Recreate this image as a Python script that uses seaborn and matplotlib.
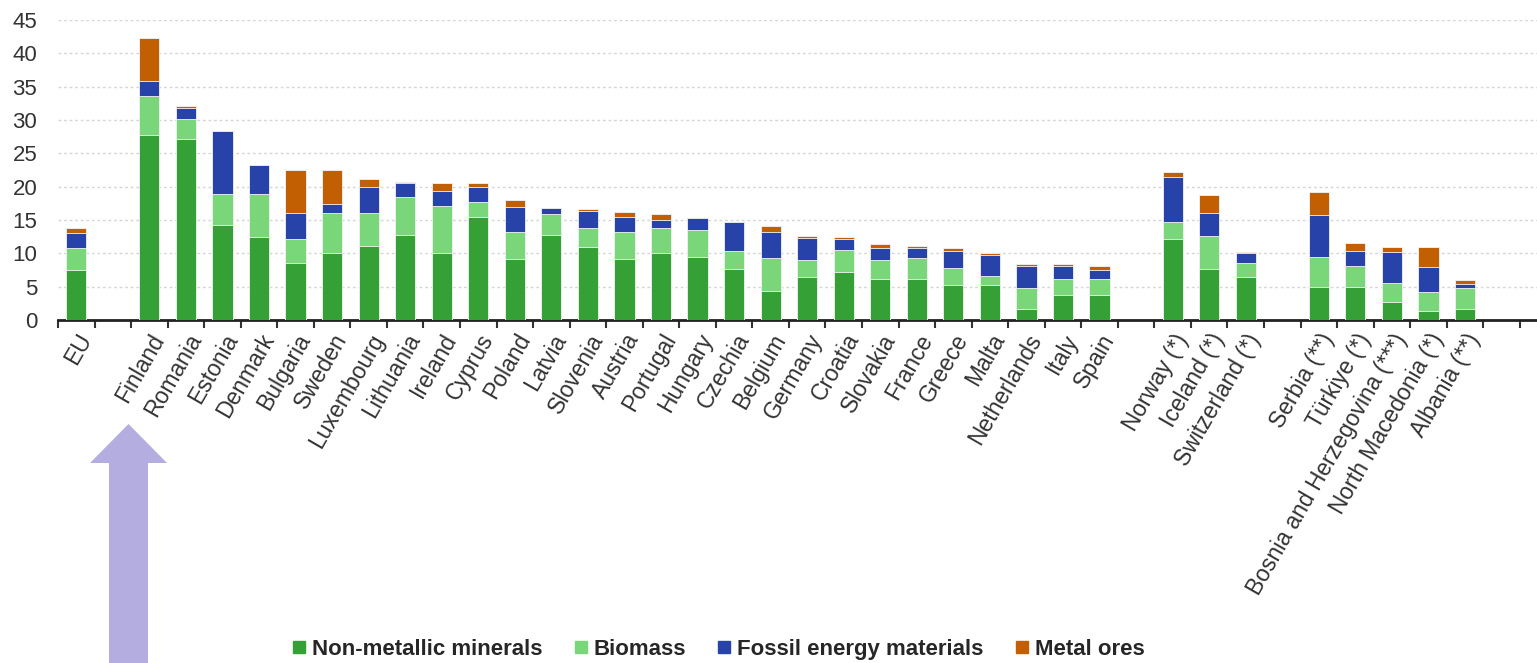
import pandas as pd
import matplotlib
matplotlib.use('Agg')
import matplotlib.pyplot as plt
import seaborn as sns
from matplotlib.lines import Line2D
from matplotlib.patches import Polygon
from matplotlib.ticker import FixedLocator

countries = ['EU', 'Finland', 'Romania', 'Estonia', 'Denmark', 'Bulgaria', 'Sweden',
             'Luxembourg', 'Lithuania', 'Ireland', 'Cyprus', 'Poland', 'Latvia', 'Slovenia',
             'Austria', 'Portugal', 'Hungary', 'Czechia', 'Belgium', 'Germany', 'Croatia',
             'Slovakia', 'France', 'Greece', 'Malta', 'Netherlands', 'Italy', 'Spain',
             'Norway (*)', 'Iceland (*)', 'Switzerland (*)',
             'Serbia (**)', 'Türkiye (*)', 'Bosnia and Herzegovina (***)',
             'North Macedonia (*)', 'Albania (**)']

non_metallic = [7.5, 27.75, 27.1, 14.2, 12.45, 8.5, 10.0, 11.15, 12.75, 10.0, 15.45, 9.1,
                12.75, 10.9, 9.1, 10.0, 9.4, 7.6, 4.3, 6.4, 7.25, 6.1, 6.1, 5.25, 5.25, 1.6,
                3.8, 3.8, 12.15, 7.6, 6.45, 4.95, 4.95, 2.7, 1.3, 1.6]
biomass = [3.25, 5.9, 3.0, 4.75, 6.5, 3.6, 6.0, 4.85, 5.75, 7.1, 2.3, 4.05, 3.15, 2.85,
           4.05, 3.75, 4.1, 2.8, 5.0, 2.6, 3.25, 2.85, 3.2, 2.5, 1.35, 3.15, 2.4, 2.3,
           2.6, 5.0, 2.15, 4.55, 3.2, 2.9, 2.85, 3.15]
fossil = [2.25, 2.25, 1.75, 9.45, 4.25, 3.9, 1.35, 3.9, 2.05, 2.3, 2.15, 3.85, 0.95, 2.6,
          2.25, 1.25, 1.75, 4.35, 3.85, 3.35, 1.65, 1.8, 1.55, 2.65, 3.15, 3.35, 1.9, 1.4,
          6.75, 3.5, 1.4, 6.25, 2.25, 4.65, 3.85, 0.65]
metal = [0.75, 6.35, 0.25, 0.0, 0.0, 6.5, 5.15, 1.25, 0.2, 1.2, 0.6, 1.0, 0.0, 0.25,
         0.85, 0.95, 0.0, 0.0, 0.95, 0.3, 0.35, 0.65, 0.25, 0.45, 0.35, 0.25, 0.25, 0.65,
         0.75, 2.65, 0.2, 3.5, 1.2, 0.75, 3.0, 0.6]

series = ['Non-metallic minerals', 'Biomass', 'Fossil energy materials', 'Metal ores']
colors = ['#35a035', '#79d679', '#2742a9', '#c25f02']

# slot order with empty gaps between the country groups
order = (['EU', ' '] + countries[1:28] + ['  '] + countries[28:31] + ['   ']
         + countries[31:] + ['    '])

df = pd.DataFrame({'country': countries, 'nmm': non_metallic, 'bio': biomass,
                   'fos': fossil, 'met': metal})
df['c1'] = df['nmm']
df['c2'] = df['c1'] + df['bio']
df['c3'] = df['c2'] + df['fos']
df['c4'] = df['c3'] + df['met']

sns.set_style('white')
plt.rcParams['font.family'] = ['Liberation Sans', 'DejaVu Sans']

fig = plt.figure(figsize=(15.37, 6.63), dpi=100)
ax = fig.add_axes([58 / 1537, 1 - 320 / 663, 1 - 58 / 1537, 300 / 663])

for col, color in zip(['c4', 'c3', 'c2', 'c1'], colors[::-1]):
    sns.barplot(data=df, x='country', y=col, order=order, color=color, width=0.55,
                saturation=1, edgecolor='#f4f4f4', linewidth=0.6, ax=ax, zorder=3)

ax.set_ylim(0, 45)
ax.set_xlim(-0.5, 39.97)
ax.set_yticks(range(0, 50, 5))
ax.yaxis.grid(True, color='#d6d6d6', linestyle=(0, (2, 2)), linewidth=1, zorder=0)
ax.xaxis.grid(False)
ax.set_xlabel('')
ax.set_ylabel('')

for s in ['top', 'right', 'left']:
    ax.spines[s].set_visible(False)
ax.spines['bottom'].set_color('#222222')
ax.spines['bottom'].set_linewidth(2)

ax.tick_params(axis='y', length=0, pad=15, labelsize=16, labelcolor='#333333')
ax.tick_params(axis='x', which='major', length=0, pad=7, labelsize=16.5, labelcolor='#333333')
ax.xaxis.set_minor_locator(FixedLocator([i - 0.5 for i in range(41)]))
ax.tick_params(axis='x', which='minor', length=6, width=1.5, color='#333333', bottom=True)

for lab in ax.get_xticklabels():
    lab.set_rotation(60)
    lab.set_ha('right')
    lab.set_va('top')
    lab.set_rotation_mode('anchor')

handles = [Line2D([0], [0], marker='s', linestyle='none', markersize=8,
                  markerfacecolor=c, markeredgecolor=c) for c in colors]
fig.legend(handles, series, loc='center', bbox_to_anchor=(0.466, 0.02), ncol=4,
           frameon=False, handletextpad=0.1, columnspacing=1.2, handlelength=1.0,
           prop={'size': 16, 'weight': 'bold'})

# highlight arrow under Finland
W, H = 1537, 663
pts = [(109, 663), (109, 463), (90, 463), (128.5, 424), (167, 463), (148, 463), (148, 663)]
arrow = Polygon([(x / W, 1 - y / H) for x, y in pts], closed=True,
                transform=fig.transFigure, facecolor='#b4aee0', edgecolor='none')
fig.patches.append(arrow)

fig.savefig('out.png', dpi=100)
